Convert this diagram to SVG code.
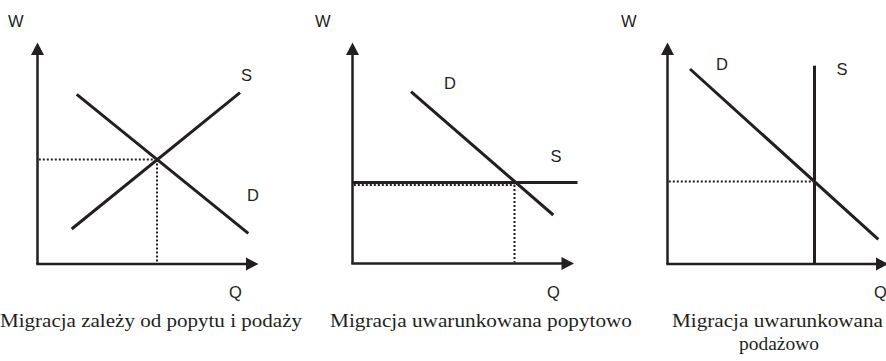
<svg xmlns="http://www.w3.org/2000/svg" width="886" height="361" viewBox="0 0 886 361">
<defs>
<style>
.ax{stroke:#231f20;stroke-width:2.5;fill:none}
.cv{stroke:#231f20;stroke-width:3;fill:none}
.dt{stroke:#231f20;stroke-width:2;stroke-dasharray:2 2;fill:none}
.ah{fill:#231f20}
.lb{font-family:"Liberation Sans",Arial,sans-serif;font-size:16.5px;fill:#231f20}
.cp{font-family:"Liberation Serif","Times New Roman",serif;font-size:19px;fill:#231f20}
</style>
</defs>
<rect width="886" height="361" fill="#ffffff"/>
<g id="panel1">
<line class="ax" x1="37.5" y1="264" x2="37.5" y2="54"/>
<line class="ax" x1="36.3" y1="264" x2="247" y2="264"/>
<polygon class="ah" points="37.5,42.5 31,55 44,55"/>
<polygon class="ah" points="258.5,264 246,257.5 246,270.5"/>
<line class="dt" x1="38.8" y1="159.5" x2="157" y2="159.5"/>
<line class="dt" x1="157" y1="159.5" x2="157" y2="262.8"/>
<line class="cv" x1="71.7" y1="229" x2="240" y2="92.7"/>
<line class="cv" x1="76.7" y1="94.3" x2="248.3" y2="233.3"/>
<text class="lb" x="8" y="27">W</text>
<text class="lb" x="241" y="81">S</text>
<text class="lb" x="247" y="201">D</text>
<text class="lb" x="229" y="298">Q</text>
<text class="cp" x="0" y="327" textLength="302" lengthAdjust="spacingAndGlyphs">Migracja zależy od popytu i podaży</text>
</g>
<g id="panel2">
<line class="ax" x1="352.5" y1="263.5" x2="352.5" y2="54"/>
<line class="ax" x1="351.3" y1="263.5" x2="562" y2="263.5"/>
<polygon class="ah" points="352.5,42.5 346,55 359,55"/>
<polygon class="ah" points="574,263.5 561.5,257 561.5,270"/>
<line class="dt" x1="353.8" y1="185" x2="514.5" y2="185"/>
<line class="dt" x1="514.5" y1="185" x2="514.5" y2="262.3"/>
<line class="cv" x1="352.5" y1="182.5" x2="577.5" y2="182.5"/>
<line class="cv" x1="411" y1="91.7" x2="553.3" y2="215"/>
<text class="lb" x="315" y="27">W</text>
<text class="lb" x="444" y="89">D</text>
<text class="lb" x="550.5" y="161.5">S</text>
<text class="lb" x="547" y="298">Q</text>
<text class="cp" x="330" y="327" textLength="302" lengthAdjust="spacingAndGlyphs">Migracja uwarunkowana popytowo</text>
</g>
<g id="panel3">
<line class="ax" x1="667.5" y1="264" x2="667.5" y2="54"/>
<line class="ax" x1="666.3" y1="264" x2="877" y2="264"/>
<polygon class="ah" points="667.5,42.5 661,55 674,55"/>
<polygon class="ah" points="888.5,264 876,257.5 876,270.5"/>
<line class="dt" x1="668.8" y1="181.5" x2="814.5" y2="181.5"/>
<line class="cv" x1="814.5" y1="65.7" x2="814.5" y2="264"/>
<line class="cv" x1="690" y1="69" x2="878.3" y2="239.3"/>
<text class="lb" x="621" y="27">W</text>
<text class="lb" x="716" y="70">D</text>
<text class="lb" x="836.5" y="75">S</text>
<text class="lb" x="874" y="298">Q</text>
<text class="cp" x="672" y="327" textLength="211" lengthAdjust="spacingAndGlyphs">Migracja uwarunkowana</text>
<text class="cp" x="739" y="350" textLength="80" lengthAdjust="spacingAndGlyphs">podażowo</text>
</g>
<g id="connectors"/>
</svg>
